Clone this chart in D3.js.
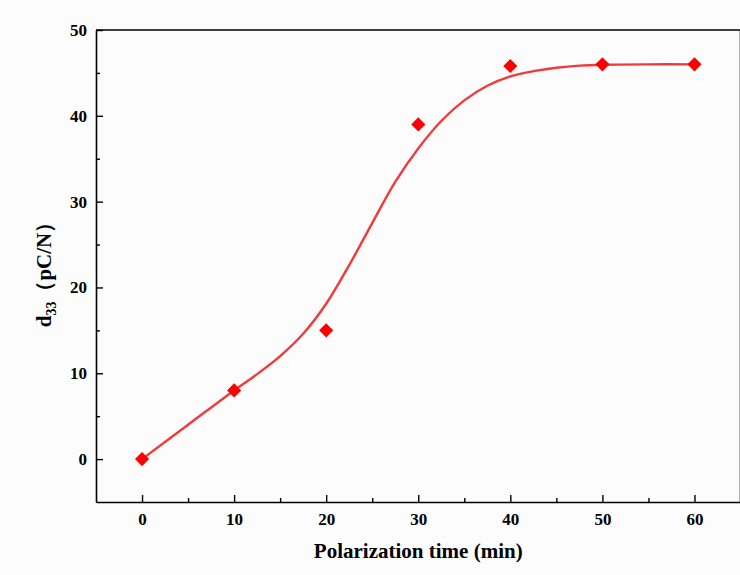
<!DOCTYPE html>
<html>
<head>
<meta charset="utf-8">
<script src="https://cdn.jsdelivr.net/npm/d3@7/dist/d3.min.js"></script>
<style>
  html, body { margin: 0; padding: 0; background: #fcfcfc; }
  svg { display: block; }
  text { font-family: "Liberation Serif", "Times New Roman", serif; font-weight: bold; fill: #000; }
</style>
</head>
<body>
<svg id="chart" width="740" height="575"></svg>
<script>
// Measured d33 vs. polarization time
const timeMin = [0, 10, 20, 30, 40, 50, 60];
const d33 = [0, 8, 15, 39, 45.8, 46, 46];

// Sigmoidal fit curve, sampled along x
const fitX = [0, 5, 10, 12.5, 15, 17.5, 20, 22.5, 25, 27.5, 30, 32.5, 35, 37.5, 40, 42.5, 45, 47.5, 50, 55, 60];
const fitY = [0, 4.0, 8.0, 9.9, 12.0, 14.6, 18.1, 22.6, 27.5, 32.3, 36.2, 39.4, 41.8, 43.5, 44.6, 45.2, 45.6, 45.85, 45.95, 46.0, 46.0];

const xMajorTicks = [0, 10, 20, 30, 40, 50, 60];
const xMinorTicks = [5, 15, 25, 35, 45, 55];
const yMajorTicks = [0, 10, 20, 30, 40, 50];
const yMinorTicks = [5, 15, 25, 35, 45];

const svg = d3.select("#chart");
const plotLeft = 96, plotRight = 740.5, plotTop = 30, plotBottom = 502;

const x = d3.scaleLinear().domain([-5, 65]).range([plotLeft, plotRight]);
const y = d3.scaleLinear().domain([-5, 50]).range([plotBottom, plotTop]);

// Frame lines
const frame = svg.append("g").attr("stroke", "#000").attr("stroke-width", 1.6).attr("fill", "none");
frame.append("line").attr("x1", plotLeft).attr("x2", plotRight).attr("y1", plotTop).attr("y2", plotTop);
frame.append("line").attr("x1", plotRight).attr("x2", plotRight).attr("y1", plotTop).attr("y2", plotBottom);

// Bottom axis (inward ticks)
svg.append("g").attr("transform", `translate(0,${plotBottom})`)
  .call(d3.axisBottom(x).tickValues(xMajorTicks).tickSizeInner(-7).tickSizeOuter(0).tickPadding(11).tickFormat(d3.format("d")));
svg.append("g").attr("transform", `translate(0,${plotBottom})`)
  .call(d3.axisBottom(x).tickValues(xMinorTicks).tickSizeInner(-4).tickSizeOuter(0).tickFormat(""))
  .select(".domain").remove();

// Left axis (inward ticks)
svg.append("g").attr("transform", `translate(${plotLeft},0)`)
  .call(d3.axisLeft(y).tickValues(yMajorTicks).tickSizeInner(-7).tickSizeOuter(0).tickPadding(9).tickFormat(d3.format("d")));
svg.append("g").attr("transform", `translate(${plotLeft},0)`)
  .call(d3.axisLeft(y).tickValues(yMinorTicks).tickSizeInner(-4).tickSizeOuter(0).tickFormat(""))
  .select(".domain").remove();

svg.selectAll(".domain").attr("stroke", "#000").attr("stroke-width", 1.6);
svg.selectAll(".tick line").attr("stroke", "#000").attr("stroke-width", 1.4);
svg.selectAll(".tick text")
  .style("font-family", "'Liberation Serif', 'Times New Roman', serif")
  .style("font-weight", "bold").style("font-size", "17px").attr("fill", "#000");

// Fit curve
const fitPts = fitX.map((v, i) => [v, fitY[i]]);
svg.append("path")
  .datum(fitPts)
  .attr("fill", "none")
  .attr("stroke", "#ef3b3b")
  .attr("stroke-width", 2.4)
  .attr("d", d3.line().x(d => x(d[0])).y(d => y(d[1])).curve(d3.curveCatmullRom.alpha(0.5)));

// Data markers (diamonds)
const diamond = d3.symbol().type(d3.symbolSquare).size(100);
svg.append("g").selectAll("path")
  .data(timeMin.map((t, i) => [t, d33[i]]))
  .join("path")
  .attr("d", diamond)
  .attr("fill", "#ff0000")
  .attr("transform", d => `translate(${x(d[0])},${y(d[1])}) rotate(45)`);

// Axis titles
svg.append("text")
  .attr("x", (x(0) + x(60)) / 2)
  .attr("y", 558)
  .attr("text-anchor", "middle")
  .style("font-size", "21px")
  .text("Polarization time (min)");

const yt = svg.append("text")
  .attr("transform", `translate(51,${(y(0) + y(50)) / 2 + 25}) rotate(-90)`)
  .attr("text-anchor", "middle")
  .style("font-size", "21px");
yt.append("tspan").text("d");
yt.append("tspan").attr("dy", 5).style("font-size", "14px").text("33");
yt.append("tspan").attr("dy", -5).text("（pC/N）");
</script>
</body>
</html>
